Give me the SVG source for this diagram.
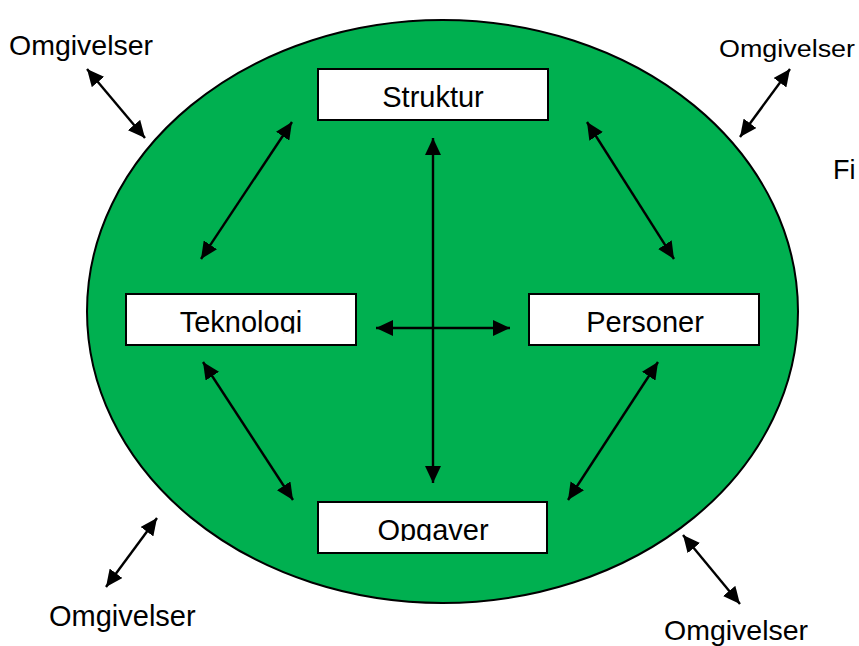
<svg xmlns="http://www.w3.org/2000/svg" width="859" height="646" viewBox="0 0 859 646">
  <style>
    .lbl { font-family: "Liberation Sans", Arial, sans-serif; fill: #000; }
    .box rect { fill: #fff; stroke: #000; stroke-width: 2; }
    .box text { font-size: 29px; text-anchor: middle; }
    .conn line { stroke: #000; stroke-width: 2.4; marker-start: url(#head); marker-end: url(#head); }
  </style>
  <defs>
    <marker id="head" markerUnits="userSpaceOnUse" markerWidth="18" markerHeight="16" refX="17" refY="8" orient="auto-start-reverse" viewBox="0 0 18 16">
      <path d="M0,0 L17,8 L0,16 Z" fill="#000"/>
    </marker>
    <clipPath id="clipTek"><rect x="126" y="294" width="230" height="39.5"/></clipPath>
    <clipPath id="clipOpg"><rect x="318" y="502" width="229" height="39"/></clipPath>
  </defs>

  <rect width="859" height="646" fill="#fff"/>

  <!-- organisation boundary -->
  <ellipse id="organisation" cx="442.5" cy="311.5" rx="355.5" ry="291.5" fill="#00B050" stroke="#000" stroke-width="2"/>

  <!-- connectors -->
  <g id="connectors" class="conn">
    <line x1="292" y1="122" x2="201" y2="259"/>
    <line x1="587" y1="122" x2="674" y2="259"/>
    <line x1="203" y1="362" x2="293" y2="500"/>
    <line x1="658" y1="362" x2="568" y2="500"/>
    <line x1="433" y1="138" x2="433" y2="483"/>
    <line x1="376" y1="328" x2="510" y2="328"/>
    <line x1="87" y1="69" x2="145" y2="138"/>
    <line x1="790" y1="69" x2="740" y2="137"/>
    <line x1="157" y1="518" x2="106" y2="587"/>
    <line x1="683" y1="535" x2="740" y2="604"/>
  </g>

  <!-- nodes -->
  <g id="struktur" class="box lbl">
    <rect x="318" y="69" width="230" height="51"/>
    <text x="433" y="107">Struktur</text>
  </g>
  <g id="teknologi" class="box lbl">
    <rect x="126" y="294" width="230" height="51"/>
    <text x="241" y="332" clip-path="url(#clipTek)">Teknologi</text>
  </g>
  <g id="personer" class="box lbl">
    <rect x="529" y="294" width="230" height="51"/>
    <text x="645" y="332">Personer</text>
  </g>
  <g id="opgaver" class="box lbl">
    <rect x="318" y="502" width="229" height="51"/>
    <text x="433" y="539.5" clip-path="url(#clipOpg)">Opgaver</text>
  </g>

  <!-- surroundings labels -->
  <g id="omgivelser-tl" class="lbl"><text x="9" y="55" font-size="28.5">Omgivelser</text></g>
  <g id="omgivelser-tr" class="lbl"><text x="719" y="57" font-size="23" textLength="136" lengthAdjust="spacingAndGlyphs">Omgivelser</text></g>
  <g id="omgivelser-bl" class="lbl"><text x="49" y="626" font-size="29">Omgivelser</text></g>
  <g id="omgivelser-br" class="lbl"><text x="664" y="640" font-size="28.5">Omgivelser</text></g>
  <g id="caption" class="lbl"><text x="833" y="179" font-size="27">Fi</text></g>
</svg>
